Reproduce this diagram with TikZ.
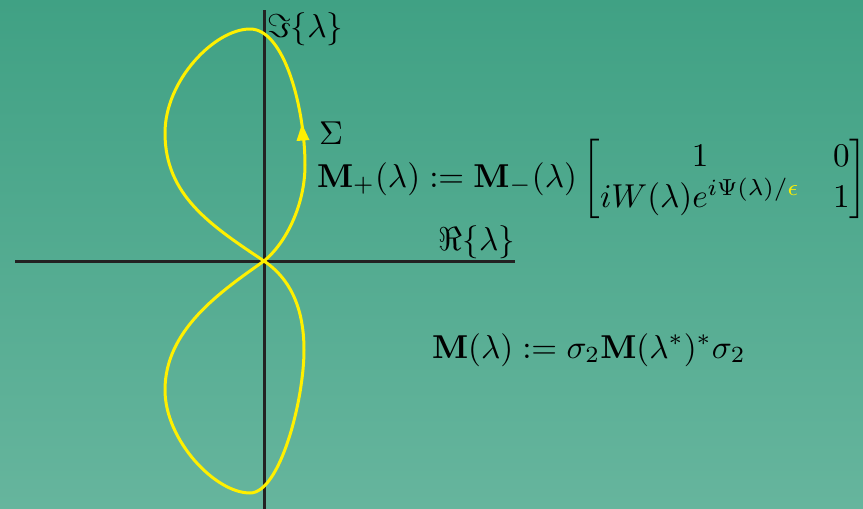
\documentclass[tikz,border=0pt]{standalone}
\usepackage{amsmath,amssymb}
\usepackage{graphicx}
\usetikzlibrary{arrows.meta}
\definecolor{bgtop}{RGB}{64,161,132}
\definecolor{bgbot}{RGB}{102,181,157}
\definecolor{curvey}{RGB}{255,240,0}
\definecolor{axisc}{RGB}{34,34,34}
\tikzset{
  lbl/.style={inner sep=0pt, outer sep=0pt, scale=3.31, transform shape, text=black},
  axisline/.style={draw=axisc, line width=3pt},
  loopcurve/.style={draw=curvey, line width=3pt},
}
\begin{document}
\begin{tikzpicture}[x=1pt,y=-1pt]
\shade[top color=bgtop, bottom color=bgbot] (0,0) rectangle (863,509);
\useasboundingbox (0,0) rectangle (863,509);
% axes
\coordinate (xl) at (15,261);
\coordinate (xr) at (515,261);
\coordinate (yt) at (264,10);
\coordinate (yb) at (264,509);
\draw[axisline] (xl) -- (xr);
\draw[axisline] (yt) -- (yb);
% figure-eight contour
\coordinate (O) at (264,261);
\draw[loopcurve, line join=round]
  (O) .. controls (286,243) and (305,205) .. (305,165)
      .. controls (305,110) and (285,29) .. (250,29)
      .. controls (215,29) and (165,80) .. (165,133)
      .. controls (165,195) and (210,225) .. (O)
      .. controls (288,277) and (304,305) .. (304,350)
      .. controls (304,400) and (280,493) .. (250,493)
      .. controls (215,493) and (165,440) .. (165,390)
      .. controls (165,330) and (220,292) .. (O);
% arrowhead on the contour
\coordinate (arrtip) at (302,124);
\coordinate (arrl) at (296.5,141);
\coordinate (arrr) at (309.5,140);
\fill[curvey] (arrtip) -- (arrr) -- (arrl) -- cycle;
% labels
\node[lbl, anchor=base west] (im) at (267,37) {$\Im\{\lambda\}$};
\node[lbl, anchor=base east] (re) at (515,250) {$\Re\{\lambda\}$};
\node[lbl, anchor=base west] (sig) at (319,144) {$\Sigma$};
\node[lbl, anchor=base west] (jump) at (317,187) {$\mathbf{M}_+(\lambda) := \mathbf{M}_-(\lambda)\begin{bmatrix} 1 & 0\\ iW(\lambda)e^{i\Psi(\lambda)/\textcolor{curvey}{\epsilon}} & 1\end{bmatrix}$};
\node[lbl, anchor=base west] (sym) at (432,358) {$\mathbf{M}(\lambda) := \sigma_2\mathbf{M}(\lambda^*)^*\sigma_2$};
\end{tikzpicture}
\end{document}
